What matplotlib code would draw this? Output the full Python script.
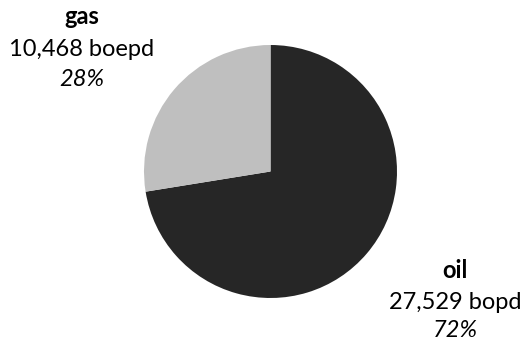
import matplotlib.pyplot as plt

# Production split
products = ["oil", "gas"]
volumes = [27529, 10468]
units = ["bopd", "boepd"]
colors = ["#262626", "#bfbfbf"]

plt.rcParams["font.family"] = ["Lato", "DejaVu Sans"]

fig = plt.figure(figsize=(5.25, 3.41), dpi=100)
ax = fig.add_axes([144 / 525, 43 / 341, 253 / 525, 253 / 341])
ax.pie(volumes, colors=colors, startangle=90, counterclock=False,
       wedgeprops=dict(linewidth=0))
ax.set_xlim(-1, 1)
ax.set_ylim(-1, 1)
ax.set_aspect("equal")
ax.axis("off")

total = sum(volumes)
# label blocks: centre x, baselines of the three lines (pixels from top)
label_pos = {"oil": (455, [278, 309, 337]), "gas": (82, [24, 56, 86])}

for name, vol, unit in zip(products, volumes, units):
    x, ys = label_pos[name]
    pct = round(100 * vol / total)
    lines = [(name, dict(fontweight="bold")),
             (f"{vol:,} {unit}", {}),
             (f"{pct}%", dict(fontstyle="italic"))]
    for (txt, kw), y in zip(lines, ys):
        fig.text(x / 525, 1 - y / 341, txt, ha="center", va="baseline",
                 fontsize=17, color="#000000", **kw)

fig.savefig("out.png", dpi=100)
